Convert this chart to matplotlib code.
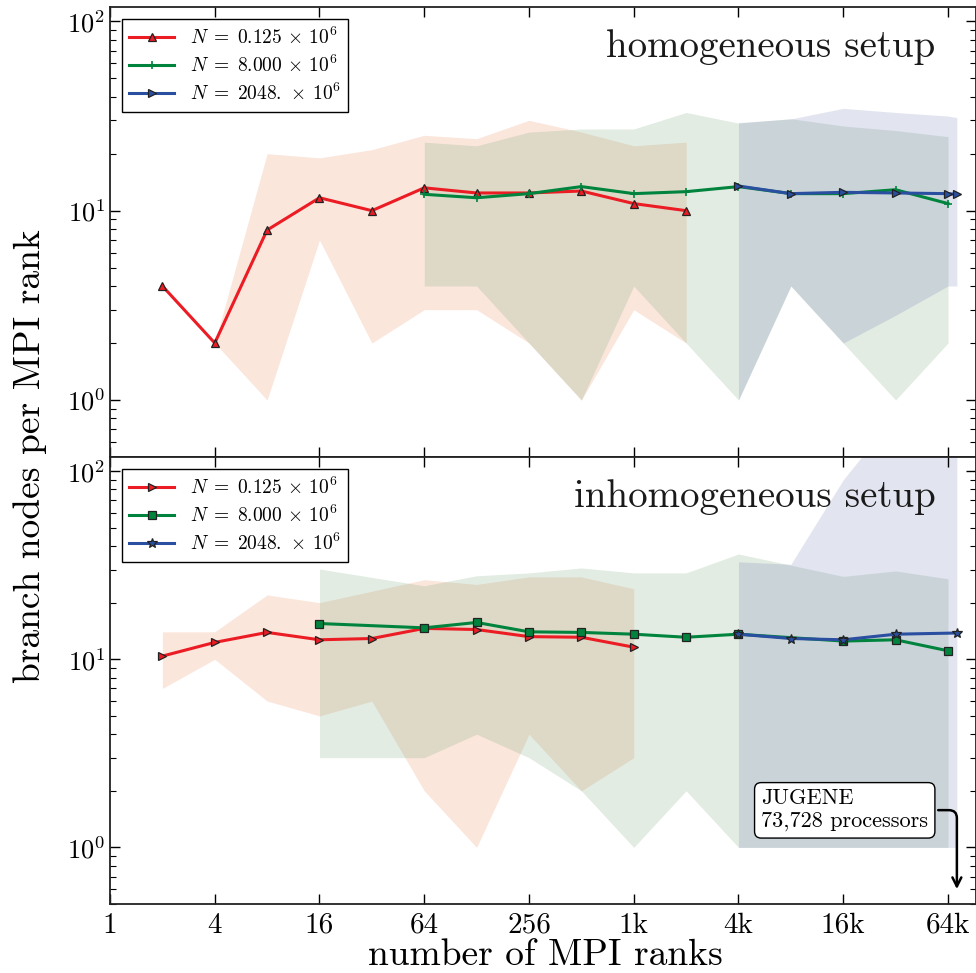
import numpy as np
import matplotlib.pyplot as plt
from matplotlib.ticker import FixedLocator, FixedFormatter, LogLocator, NullFormatter

plt.rcParams["font.family"] = "serif"
plt.rcParams["font.serif"] = ["cmr10"]
plt.rcParams["mathtext.fontset"] = "cm"
plt.rcParams["axes.formatter.use_mathtext"] = True
plt.rcParams["axes.unicode_minus"] = False

# ---- homogeneous setup ----
hom_small_ranks = [2, 4, 8, 16, 32, 64, 128, 256, 512, 1024, 2048]
hom_small_mean = [4.0, 2.0, 7.9, 11.7, 10.0, 13.2, 12.4, 12.4, 12.7, 10.9, 10.0]
hom_small_min = [4.0, 2.0, 1.0, 7.0, 2.0, 3.0, 3.0, 2.0, 1.0, 3.0, 2.0]
hom_small_max = [4.0, 2.0, 20.0, 19.0, 21.0, 25.0, 24.0, 30.0, 26.0, 22.0, 23.0]

hom_mid_ranks = [64, 128, 256, 512, 1024, 2048, 4096, 8192, 16384, 32768, 65536]
hom_mid_mean = [12.2, 11.7, 12.3, 13.4, 12.3, 12.6, 13.4, 12.3, 12.3, 12.9, 10.9]
hom_mid_min = [4.0, 4.0, 2.0, 1.0, 4.0, 2.0, 1.0, 4.0, 2.0, 1.0, 2.0]
hom_mid_max = [23.0, 22.0, 26.0, 27.0, 27.0, 33.0, 29.0, 30.6, 28.0, 26.5, 24.6]

hom_big_ranks = [4096, 8192, 16384, 32768, 65536, 73728]
hom_big_mean = [13.5, 12.3, 12.5, 12.4, 12.3, 12.2]
hom_big_min = [1.0, 4.0, 2.0, 2.8, 4.0, 4.0]
hom_big_max = [29.2, 30.5, 34.7, 33.0, 31.6, 31.0]

# ---- inhomogeneous setup ----
inh_small_ranks = [2, 4, 8, 16, 32, 64, 128, 256, 512, 1024]
inh_small_mean = [10.4, 12.3, 13.9, 12.7, 12.9, 14.6, 14.4, 13.2, 13.1, 11.6]
inh_small_min = [7.0, 10.0, 6.0, 5.0, 6.0, 2.0, 1.0, 4.0, 2.0, 3.0]
inh_small_max = [14.0, 14.0, 22.0, 20.0, 23.0, 26.5, 25.0, 27.4, 27.4, 23.7]

inh_mid_ranks = [16, 64, 128, 256, 512, 1024, 2048, 4096, 16384, 32768, 65536]
inh_mid_mean = [15.5, 14.7, 15.7, 14.0, 13.9, 13.6, 13.1, 13.6, 12.5, 12.7, 11.1]
inh_mid_min = [3.0, 3.0, 4.0, 3.0, 2.0, 1.0, 2.0, 1.0, 1.0, 1.0, 1.0]
inh_mid_max = [30.2, 24.6, 27.8, 28.8, 30.6, 28.8, 28.8, 36.3, 27.6, 29.5, 26.8]

inh_big_ranks = [4096, 8192, 16384, 32768, 73728]
inh_big_mean = [13.6, 12.9, 12.7, 13.6, 13.8]
inh_big_min = [1.0, 1.0, 1.0, 1.0, 1.0]
inh_big_max = [33.0, 32.0, 90.0, 200.0, 200.0]

labels = [r"$N\;=\;0.125\,\times\,10^6$", r"$N\;=\;8.000\,\times\,10^6$",
          r"$N\;=\;2048.\,\times\,10^6$"]
line_colors = ["#ec1c24", "#00843d", "#2a4ea0"]
fill_colors = ["#eb8250", "#6ea06e", "#6e78b4"]

x_ticks = [1, 4, 16, 64, 256, 1024, 4096, 16384, 65536]
x_ticklabels = ["1", "4", "16", "64", "256", "1k", "4k", "16k", "64k"]

panels = [
    ("homogeneous setup", ["^", "+", ">"], [
        (hom_small_ranks, hom_small_mean, hom_small_min, hom_small_max),
        (hom_mid_ranks, hom_mid_mean, hom_mid_min, hom_mid_max),
        (hom_big_ranks, hom_big_mean, hom_big_min, hom_big_max),
    ]),
    ("inhomogeneous setup", [">", "s", "*"], [
        (inh_small_ranks, inh_small_mean, inh_small_min, inh_small_max),
        (inh_mid_ranks, inh_mid_mean, inh_mid_min, inh_mid_max),
        (inh_big_ranks, inh_big_mean, inh_big_min, inh_big_max),
    ]),
]

fig = plt.figure(figsize=(9.76, 9.73), dpi=100)
ax_top = fig.add_axes([0.1127, 0.5303, 0.8873, 0.4625])
ax_bot = fig.add_axes([0.1127, 0.0709, 0.8873, 0.4594], sharex=ax_top)

for ax, (title, markers, series) in zip([ax_top, ax_bot], panels):
    # min/max spread first, mean curves on top
    for (ranks, mean, lo, hi), fc in zip(series, fill_colors):
        ax.fill_between(ranks, lo, hi, color=fc, alpha=0.2, linewidth=0)
    for (ranks, mean, lo, hi), lc, mk, lab in zip(series, line_colors, markers, labels):
        if mk == "+":
            ax.plot(ranks, mean, color=lc, lw=2.2, marker=mk, ms=6, mew=1.2, label=lab)
        else:
            ax.plot(ranks, mean, color=lc, lw=2.2, marker=mk, ms=6 if mk != "*" else 7,
                    mfc=lc, mec="#222222", mew=0.9, label=lab)

    ax.set_xscale("log", base=2)
    ax.set_yscale("log")
    ax.set_xlim(1, 2 ** 16.535)
    ax.set_ylim(0.5, 119)
    ax.xaxis.set_major_locator(FixedLocator(x_ticks))
    ax.xaxis.set_major_formatter(FixedFormatter(x_ticklabels))
    ax.xaxis.set_minor_locator(FixedLocator([]))
    ax.yaxis.set_major_locator(LogLocator(base=10))
    ax.yaxis.set_minor_locator(LogLocator(base=10, subs=np.arange(2, 10)))
    ax.yaxis.set_minor_formatter(NullFormatter())
    ax.tick_params(which="both", direction="in", top=True, right=True)
    ax.tick_params(which="major", length=7, width=1, labelsize=19)
    ax.tick_params(which="minor", length=4, width=0.8)
    ax.tick_params(axis="x", labelsize=21, pad=6)
    for sp in ax.spines.values():
        sp.set_linewidth(1.3)
        sp.set_color("#222222")

    ax.text(0.953, 0.889, title, transform=ax.transAxes, ha="right", va="baseline",
            fontsize=28, color="#1a1a1a")
    leg = ax.legend(loc="upper left", fontsize=14, fancybox=False, edgecolor="black",
                    framealpha=1, handlelength=2.3, borderaxespad=0.6, labelspacing=0.35)
    leg.get_frame().set_linewidth(1.0)

ax_top.tick_params(axis="x", labelbottom=False)

ax_bot.annotate("JUGENE\n73,728 processors", xy=(73728, 0.58), xytext=(0.752, 0.21),
                textcoords="axes fraction", ha="left", va="center", fontsize=16,
                bbox=dict(boxstyle="round,pad=0.3", fc="white", ec="black", lw=1),
                arrowprops=dict(arrowstyle="->", color="black", lw=1.8,
                                connectionstyle="angle,angleA=0,angleB=90,rad=8"))

fig.text(30 / 976, 1 - 456 / 973, "branch nodes per MPI rank", rotation=90,
         ha="center", va="center", fontsize=27)
fig.text(545 / 976, 1 - 965 / 973, "number of MPI ranks", ha="center", va="baseline",
         fontsize=27)

fig.savefig("out.png", dpi=100)
